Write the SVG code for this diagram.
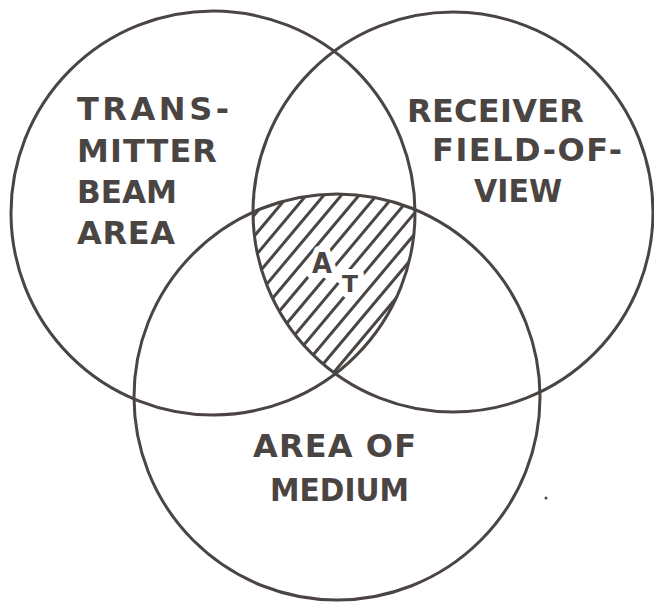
<svg xmlns="http://www.w3.org/2000/svg" width="654" height="602" viewBox="0 0 654 602">
  <style>
    .ring { fill: none; stroke: #4a4542; stroke-width: 3; }
    .lbl { font-family: "DejaVu Sans", "Liberation Sans", sans-serif; font-weight: bold; font-size: 32px; fill: #4a4542; }
    .hatch line { stroke: #4a4542; stroke-width: 3; }
    .sub { font-family: "DejaVu Sans", "Liberation Sans", sans-serif; font-weight: bold; fill: #4a4542; stroke: #ffffff; stroke-width: 12; stroke-linejoin: round; paint-order: stroke; }
  </style>
  <defs>
    <clipPath id="cL"><circle cx="213" cy="213" r="202"/></clipPath>
    <clipPath id="cR"><circle cx="453" cy="212" r="200"/></clipPath>
    <clipPath id="cB"><circle cx="337" cy="397" r="203"/></clipPath>
  </defs>
  <rect width="654" height="602" fill="#ffffff"/>

  <g id="hatched-region">
    <g clip-path="url(#cL)">
      <g clip-path="url(#cR)">
        <g clip-path="url(#cB)">
          <g class="hatch">
            <line x1="158.7" y1="329.0" x2="351.5" y2="99.2"/>
            <line x1="169.0" y1="337.7" x2="361.8" y2="107.9"/>
            <line x1="179.4" y1="346.4" x2="372.2" y2="116.6"/>
            <line x1="189.7" y1="355.1" x2="382.5" y2="125.3"/>
            <line x1="200.0" y1="363.7" x2="392.8" y2="133.9"/>
            <line x1="210.4" y1="372.4" x2="403.2" y2="142.6"/>
            <line x1="220.7" y1="381.1" x2="413.5" y2="151.3"/>
            <line x1="231.1" y1="389.8" x2="423.9" y2="160.0"/>
            <line x1="241.4" y1="398.5" x2="434.2" y2="168.7"/>
            <line x1="251.7" y1="407.1" x2="444.5" y2="177.3"/>
            <line x1="262.1" y1="415.8" x2="454.9" y2="186.0"/>
            <line x1="272.4" y1="424.5" x2="465.2" y2="194.7"/>
            <line x1="282.8" y1="433.2" x2="475.6" y2="203.4"/>
            <line x1="293.1" y1="441.9" x2="485.9" y2="212.1"/>
          </g>
        </g>
      </g>
    </g>
    <text class="sub" x="312" y="273" font-size="28" textLength="20" lengthAdjust="spacingAndGlyphs">A</text>
    <text class="sub" x="342" y="292" font-size="23" textLength="16" lengthAdjust="spacingAndGlyphs">T</text>
  </g>

  <g id="transmitter">
    <circle class="ring" cx="213" cy="213" r="202"/>
    <text class="lbl" x="77" y="120" textLength="152" lengthAdjust="spacing">TRANS-</text>
    <text class="lbl" x="77" y="162" textLength="140" lengthAdjust="spacing">MITTER</text>
    <text class="lbl" x="77" y="203" textLength="100" lengthAdjust="spacingAndGlyphs">BEAM</text>
    <text class="lbl" x="77" y="244" textLength="98" lengthAdjust="spacing">AREA</text>
  </g>

  <g id="receiver">
    <circle class="ring" cx="453" cy="212" r="200"/>
    <text class="lbl" x="407" y="122" textLength="177" lengthAdjust="spacing">RECEIVER</text>
    <text class="lbl" x="432" y="161" textLength="190" lengthAdjust="spacing">FIELD-OF-</text>
    <text class="lbl" x="474" y="202" textLength="88" lengthAdjust="spacingAndGlyphs">VIEW</text>
  </g>

  <g id="medium">
    <circle class="ring" cx="337" cy="397" r="203"/>
    <text class="lbl" x="253" y="457" textLength="163" lengthAdjust="spacing">AREA OF</text>
    <text class="lbl" x="270" y="501" textLength="139" lengthAdjust="spacingAndGlyphs">MEDIUM</text>
  </g>

  <g id="connectors"></g>

  <circle cx="546" cy="498" r="1.5" fill="#4a4542"/>
</svg>
